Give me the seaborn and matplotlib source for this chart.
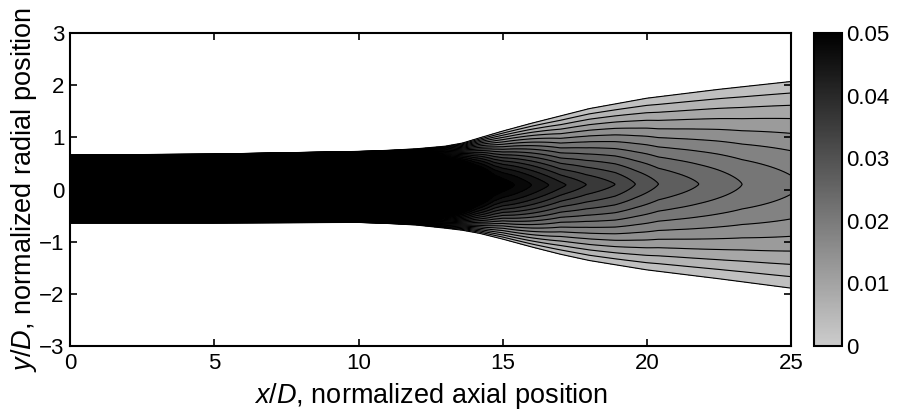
"""
Carte de concentration moyenne du jet (contours remplis + barre de couleur).
"""
import numpy as np
import matplotlib
matplotlib.use("Agg")
import matplotlib.pyplot as plt
import seaborn as sns
from matplotlib.colors import LinearSegmentedColormap, Normalize

# --- valeurs ---
# bord du jet (contour le plus bas) en haut / en bas
x_stations = [0, 5, 10, 11, 12, 13, 13.6, 14.2, 15, 16, 17, 18, 20, 22.5, 25]
upper_edge = [0.66, 0.68, 0.73, 0.75, 0.78, 0.83, 0.89, 0.99, 1.12, 1.27, 1.41,
              1.55, 1.75, 1.92, 2.07]
lower_edge = [-0.64, -0.64, -0.63, -0.65, -0.68, -0.74, -0.78, -0.84, -0.95, -1.10,
              -1.24, -1.36, -1.54, -1.71, -1.89]

# valeur sur l'axe (pointes des contours)
cl_stations = [0, 10, 11, 12, 13, 14, 14.7, 15.4, 16.0, 16.6, 17.2, 17.9, 18.9,
               19.6, 20.4, 21.8, 23.3, 25.0]
centerline = [0.20, 0.20, 0.15, 0.11, 0.08, 0.062, 0.054, 0.051, 0.048, 0.045,
              0.042, 0.039, 0.036, 0.033, 0.030, 0.027, 0.024, 0.0215]

# forme du profil radial (chapeau -> chevrons)
shape_stations = [0, 9, 10, 11, 12, 13, 14, 15, 17, 21, 25]
shape_exp = [12, 12, 9, 6, 4, 3, 2.2, 1.6, 1.2, 1.3, 1.5]

levels = np.arange(0.003, 0.1, 0.003)
cbar_ticks = [0, 0.01, 0.02, 0.03, 0.04, 0.05]
x_ticks = [0, 5, 10, 15, 20, 25]
y_ticks = [-3, -2, -1, 0, 1, 2, 3]

sns.set_style("white")
plt.rcParams["font.family"] = ["Liberation Sans", "DejaVu Sans"]
plt.rcParams["mathtext.fontset"] = "custom"
plt.rcParams["mathtext.it"] = "Liberation Sans:italic"
plt.rcParams["mathtext.rm"] = "Liberation Sans"
for k in ["text.color", "axes.labelcolor", "xtick.color", "ytick.color", "axes.edgecolor"]:
    plt.rcParams[k] = "black"

# grille du champ
xg = np.linspace(0, 25, 500)
yg = np.linspace(-3, 3, 500)
X, Y = np.meshgrid(xg, yg)
up = np.interp(X, x_stations, upper_edge)
lo = np.interp(X, x_stations, lower_edge)
yc = 0.5 * (up + lo)
half = np.where(Y >= yc, up - yc, yc - lo)
eta = np.abs(Y - yc) / half
c0 = np.interp(X, cl_stations, centerline)
p = np.interp(X, shape_stations, shape_exp)
v0 = levels[0]
C = v0 + (c0 - v0) * (1 - eta ** p)

cmap = LinearSegmentedColormap.from_list("gris", [(0.80, 0.80, 0.80), (0, 0, 0)])
norm = Normalize(0, 0.05)
# chaque bande prend la couleur de son niveau inferieur
band_colors = [cmap(norm(l)) for l in levels]

fig = plt.figure(figsize=(8.99, 4.12), dpi=100)
ax = fig.add_axes([0.078, 0.160, 0.802, 0.760])
cax = fig.add_axes([0.9055, 0.160, 0.031, 0.760])

ax.contourf(X, Y, C, levels=levels, colors=band_colors[:-1])
ax.contourf(X, Y, C, levels=[levels[-1], 10], colors=["black"])
ax.contour(X, Y, C, levels=levels, colors="black", linewidths=0.8)

ax.set_axisbelow(False)
ax.set_xlim(0, 25)
ax.set_ylim(-3, 3)
ax.set_xticks(x_ticks)
ax.set_yticks(y_ticks)
ax.set_xlabel("$x/D$, normalized axial position", fontsize=19.5, labelpad=5)
ax.set_ylabel("$y/D$, normalized radial position", fontsize=19.5, labelpad=0)
ax.tick_params(direction="in", length=5, width=1.2, labelsize=16,
               bottom=True, left=True, top=True, right=True)
ax.tick_params(axis="x", pad=5)
ax.tick_params(axis="y", pad=4)
for s in ax.spines.values():
    s.set_linewidth(1.5)
    s.set_zorder(5)

sm = plt.cm.ScalarMappable(norm=norm, cmap=cmap)
cb = fig.colorbar(sm, cax=cax, ticks=cbar_ticks)
cb.ax.set_yticklabels([f"{t:g}" for t in cbar_ticks])
cb.ax.tick_params(direction="in", length=4, width=1.2, labelsize=16,
                  left=True, right=True, pad=3)
cb.outline.set_linewidth(1.5)
cb.outline.set_edgecolor("black")

plt.savefig("out.png", dpi=100)
